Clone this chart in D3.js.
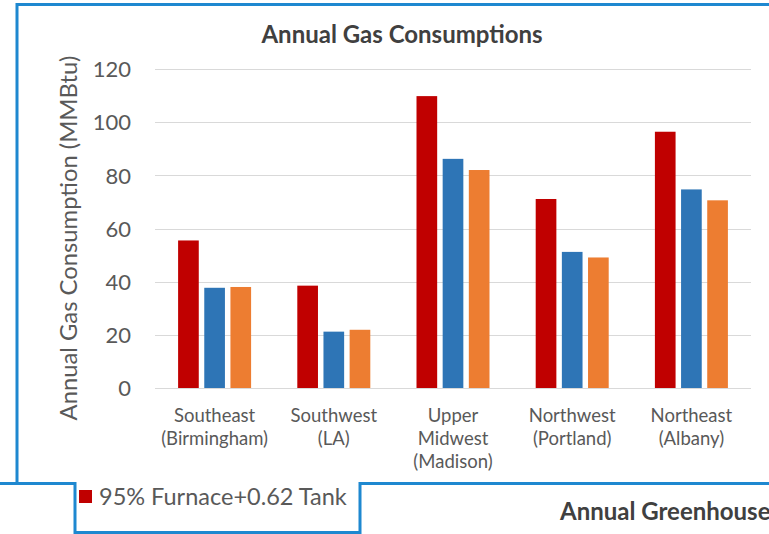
<!DOCTYPE html>
<html><head><meta charset="utf-8">
<script src="https://cdn.jsdelivr.net/npm/d3@7"></script>
<style>html,body{margin:0;padding:0;background:#fff;overflow:hidden}svg{display:block}</style>
</head><body>
<svg id="chart" width="769" height="534"></svg>
<script>
const categories = ["Southeast (Birmingham)", "Southwest (LA)", "Upper Midwest (Madison)", "Northwest (Portland)", "Northeast (Albany)"];
const categoryLines = [["Southeast","(Birmingham)"],["Southwest","(LA)"],["Upper","Midwest","(Madison)"],["Northwest","(Portland)"],["Northeast","(Albany)"]];
const seriesNames = ["95% Furnace+0.62 Tank", "Series 2", "Series 3"];
const furnaceTank = [55.5, 38.5, 109.8, 71.1, 96.4];
const series2 = [37.7, 21.2, 86.2, 51.2, 74.7];
const series3 = [38.0, 21.9, 82.0, 49.1, 70.6];
const yTicks = [0, 20, 40, 60, 80, 100, 120];
const colors = ["#C00000", "#2E75B6", "#ED7D31"];

const allSeries = [furnaceTank, series2, series3];
const svg = d3.select("#chart");
const font = "Lato, 'Open Sans', sans-serif";
const textGray = "#595959";

const x0 = d3.scaleBand().domain(categories).range([155, 751]).paddingInner(0.3876).paddingOuter(0.1938);
const x1 = d3.scaleBand().domain(d3.range(3)).range([0, x0.bandwidth()]).paddingInner(0.21).paddingOuter(0);
const y = d3.scaleLinear().domain([0, 120]).range([388, 69]);

// Frame lines
const frame = svg.append("g").attr("fill", "none").attr("stroke", "#1E88D0").attr("stroke-width", 3);
frame.append("path").attr("d", "M17,483.5 L17,4.5 L769,4.5");
frame.append("path").attr("d", "M0,483.5 L75,483.5 L75,534");
frame.append("path").attr("d", "M360,534 L360,483.5 L769,483.5");
frame.append("path").attr("d", "M75,532.5 L360,532.5");

// Gridlines
const grid = svg.append("g");
grid.selectAll("line").data(yTicks).join("line")
  .attr("x1", 155).attr("x2", 751)
  .attr("y1", d => Math.round(y(d)) + 0.5).attr("y2", d => Math.round(y(d)) + 0.5)
  .attr("stroke", "#D9D9D9").attr("stroke-width", 1.2);

// Y axis labels
const yAxis = svg.append("g").attr("transform", "translate(131,0)")
  .call(d3.axisLeft(y).tickValues(yTicks).tickSize(0).tickPadding(0));
yAxis.select(".domain").remove();
yAxis.selectAll("text").attr("font-family", font).attr("font-size", 22).attr("fill", textGray).attr("dy", "0.35em");

// Bars
const groups = svg.append("g").selectAll("g").data(categories).join("g")
  .attr("transform", d => `translate(${x0(d)},0)`);
groups.selectAll("rect").data((d, i) => allSeries.map((s, k) => ({k, v: s[i]}))).join("rect")
  .attr("x", d => x1(d.k)).attr("width", x1.bandwidth())
  .attr("y", d => y(d.v)).attr("height", d => y(0) - y(d.v))
  .attr("fill", d => colors[d.k]);

// Category labels
const catG = svg.append("g");
categories.forEach((c, i) => {
  const t = catG.append("text").attr("x", x0(c) + x0.bandwidth() / 2).attr("y", 422)
    .attr("text-anchor", "middle").attr("font-family", font).attr("font-size", 18.5).attr("fill", textGray);
  categoryLines[i].forEach((ln, j) => {
    t.append("tspan").attr("x", x0(c) + x0.bandwidth() / 2).attr("y", 422 + j * 23).text(ln);
  });
});

// Title
svg.append("text").attr("x", 402).attr("y", 43).attr("text-anchor", "middle")
  .attr("font-family", font).attr("font-weight", "bold").attr("font-size", 24).attr("fill", "#404040")
  .text("Annual Gas Consumptions");

// Y axis title
svg.append("text").attr("transform", "translate(77,238) rotate(-90)").attr("text-anchor", "middle")
  .attr("font-family", font).attr("font-size", 23.8).attr("fill", textGray)
  .text("Annual Gas Consumption (MMBtu)");

// Legend
svg.append("rect").attr("x", 79).attr("y", 490).attr("width", 13).attr("height", 13).attr("fill", colors[0]);
svg.append("text").attr("x", 99).attr("y", 505).attr("font-family", font).attr("font-size", 23.5).attr("fill", textGray)
  .text(seriesNames[0]);

// Next chart title (cut off)
svg.append("text").attr("x", 560).attr("y", 520).attr("font-family", font).attr("font-weight", "bold")
  .attr("font-size", 24).attr("fill", "#404040").text("Annual Greenhouse");
</script>
</body></html>
